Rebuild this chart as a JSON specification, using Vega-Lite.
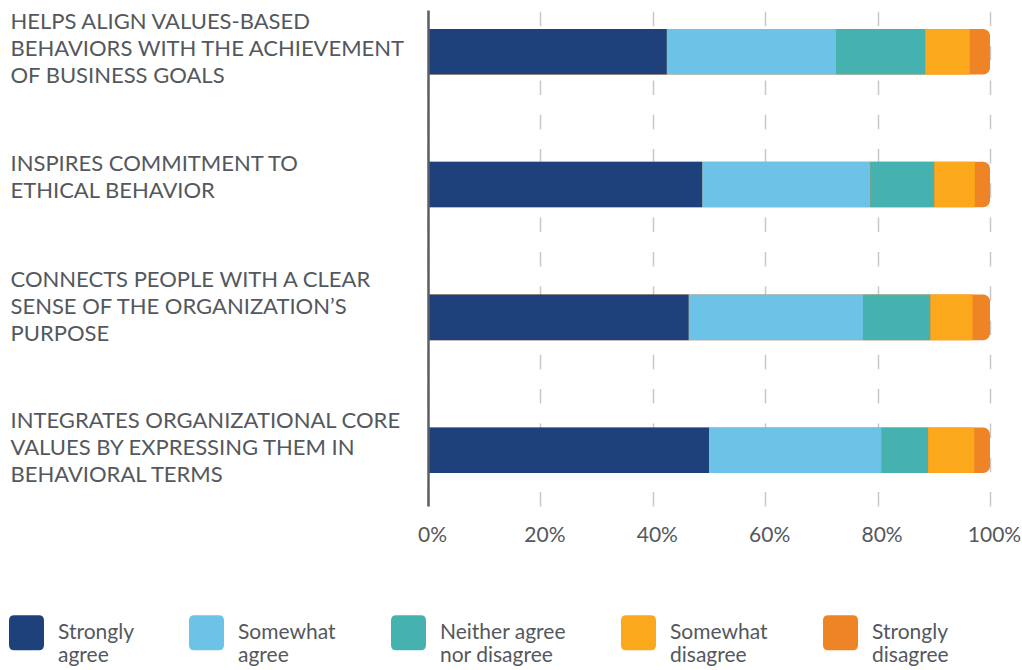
{
  "$schema": "https://vega.github.io/schema/vega-lite/v6.json",
  "autosize": "none",
  "width": 562,
  "height": 496,
  "padding": {"left": 428, "top": 10, "right": 32, "bottom": 164},
  "background": "white",
  "config": {
    "view": {"stroke": null},
    "font": "Lato",
    "axis": {"labelFont": "Lato", "labelColor": "#54585d"},
    "legend": {"labelFont": "Lato", "labelColor": "#54585d"}
  },
  "data": {
    "values": [
      {"item": "HELPS ALIGN VALUES-BASED|BEHAVIORS WITH THE ACHIEVEMENT|OF BUSINESS GOALS", "response": "Strongly agree", "rank": 1, "value": 42.5},
      {"item": "HELPS ALIGN VALUES-BASED|BEHAVIORS WITH THE ACHIEVEMENT|OF BUSINESS GOALS", "response": "Somewhat agree", "rank": 2, "value": 30.1},
      {"item": "HELPS ALIGN VALUES-BASED|BEHAVIORS WITH THE ACHIEVEMENT|OF BUSINESS GOALS", "response": "Neither agree nor disagree", "rank": 3, "value": 15.9},
      {"item": "HELPS ALIGN VALUES-BASED|BEHAVIORS WITH THE ACHIEVEMENT|OF BUSINESS GOALS", "response": "Somewhat disagree", "rank": 4, "value": 7.9},
      {"item": "HELPS ALIGN VALUES-BASED|BEHAVIORS WITH THE ACHIEVEMENT|OF BUSINESS GOALS", "response": "Strongly disagree", "rank": 5, "value": 3.6},
      {"item": "INSPIRES COMMITMENT TO|ETHICAL BEHAVIOR", "response": "Strongly agree", "rank": 1, "value": 48.8},
      {"item": "INSPIRES COMMITMENT TO|ETHICAL BEHAVIOR", "response": "Somewhat agree", "rank": 2, "value": 29.9},
      {"item": "INSPIRES COMMITMENT TO|ETHICAL BEHAVIOR", "response": "Neither agree nor disagree", "rank": 3, "value": 11.4},
      {"item": "INSPIRES COMMITMENT TO|ETHICAL BEHAVIOR", "response": "Somewhat disagree", "rank": 4, "value": 7.2},
      {"item": "INSPIRES COMMITMENT TO|ETHICAL BEHAVIOR", "response": "Strongly disagree", "rank": 5, "value": 2.7},
      {"item": "CONNECTS PEOPLE WITH A CLEAR|SENSE OF THE ORGANIZATION’S|PURPOSE", "response": "Strongly agree", "rank": 1, "value": 46.4},
      {"item": "CONNECTS PEOPLE WITH A CLEAR|SENSE OF THE ORGANIZATION’S|PURPOSE", "response": "Somewhat agree", "rank": 2, "value": 31.0},
      {"item": "CONNECTS PEOPLE WITH A CLEAR|SENSE OF THE ORGANIZATION’S|PURPOSE", "response": "Neither agree nor disagree", "rank": 3, "value": 12.0},
      {"item": "CONNECTS PEOPLE WITH A CLEAR|SENSE OF THE ORGANIZATION’S|PURPOSE", "response": "Somewhat disagree", "rank": 4, "value": 7.5},
      {"item": "CONNECTS PEOPLE WITH A CLEAR|SENSE OF THE ORGANIZATION’S|PURPOSE", "response": "Strongly disagree", "rank": 5, "value": 3.1},
      {"item": "INTEGRATES ORGANIZATIONAL CORE|VALUES BY EXPRESSING THEM IN|BEHAVIORAL TERMS", "response": "Strongly agree", "rank": 1, "value": 50.0},
      {"item": "INTEGRATES ORGANIZATIONAL CORE|VALUES BY EXPRESSING THEM IN|BEHAVIORAL TERMS", "response": "Somewhat agree", "rank": 2, "value": 30.7},
      {"item": "INTEGRATES ORGANIZATIONAL CORE|VALUES BY EXPRESSING THEM IN|BEHAVIORAL TERMS", "response": "Neither agree nor disagree", "rank": 3, "value": 8.3},
      {"item": "INTEGRATES ORGANIZATIONAL CORE|VALUES BY EXPRESSING THEM IN|BEHAVIORAL TERMS", "response": "Somewhat disagree", "rank": 4, "value": 8.2},
      {"item": "INTEGRATES ORGANIZATIONAL CORE|VALUES BY EXPRESSING THEM IN|BEHAVIORAL TERMS", "response": "Strongly disagree", "rank": 5, "value": 2.8}
    ]
  },
  "encoding": {
    "y": {
      "field": "item",
      "type": "nominal",
      "sort": null,
      "scale": {"paddingInner": 0.657, "paddingOuter": 0.196, "align": 0.365},
      "axis": {
        "title": null,
        "labelExpr": "split(datum.label, '|')",
        "labelAlign": "left",
        "labelBaseline": "middle",
        "labelPadding": 418,
        "labelOffset": {"expr": "-(length(split(datum.value, '|')) - 1) * 13.5 + (length(split(datum.value, '|')) == 2 ? -7 : (indexof(datum.value, 'CONNECTS') == 0 ? -10 : -2.5))"},
        "tickSize": 0,
        "ticks": false,
        "labelFontSize": 22,
        "labelLineHeight": 27,
        "labelLimit": 0,
        "domain": true,
        "domainColor": "#5b5e63",
        "domainWidth": 2.5,
        "grid": false,
        "zindex": 1
      }
    }
  },
  "layer": [
    {
      "mark": {"type": "bar", "cornerRadiusEnd": 7},
      "encoding": {
        "x": {
          "aggregate": "sum",
          "field": "value",
          "type": "quantitative",
          "scale": {"domain": [0, 100], "nice": false},
          "axis": {
            "title": null,
            "values": [0, 20, 40, 60, 80, 100],
            "labelExpr": "datum.value + '%'",
            "labelFontSize": 21,
            "labelPadding": 18,
            "labelOffset": 4,
            "labelFlush": false,
            "domain": false,
            "ticks": false,
            "grid": true,
            "gridColor": "#c8c8c8",
            "gridWidth": 1.5,
            "gridDash": [14.5, 19.8],
            "gridDashOffset": 0
          }
        },
        "color": {"datum": "Strongly disagree", "type": "nominal"}
      }
    },
    {
      "transform": [{"filter": "datum.response !== 'Strongly disagree'"}],
      "mark": {"type": "bar"},
      "encoding": {
        "x": {"field": "value", "type": "quantitative", "stack": "zero"},
        "order": {"field": "rank", "type": "quantitative", "sort": "ascending"},
        "color": {
          "field": "response",
          "type": "nominal",
          "scale": {
            "domain": ["Strongly agree", "Somewhat agree", "Neither agree nor disagree", "Somewhat disagree", "Strongly disagree"],
            "range": ["#1F417B", "#6CC3E7", "#45B2AF", "#FBA81D", "#EE8425"]
          },
          "legend": {
            "title": null,
            "orient": "none",
            "legendX": -419,
            "legendY": 605,
            "direction": "horizontal",
            "columns": 5,
            "columnPadding": 55,
            "symbolType": "M -0.7 -1 L 0.7 -1 Q 1 -1 1 -0.7 L 1 0.7 Q 1 1 0.7 1 L -0.7 1 Q -1 1 -1 0.7 L -1 -0.7 Q -1 -1 -0.7 -1 Z",
            "symbolSize": 1225,
            "symbolStrokeWidth": 0,
            "symbolOpacity": 1,
            "labelFontSize": 21,
            "labelLineHeight": 24,
            "labelOffset": 14,
            "labelLimit": 0,
            "labelExpr": "datum.label == 'Neither agree nor disagree' ? ['Neither agree', 'nor disagree'] : split(datum.label, ' ')"
          }
        }
      }
    }
  ]
}
